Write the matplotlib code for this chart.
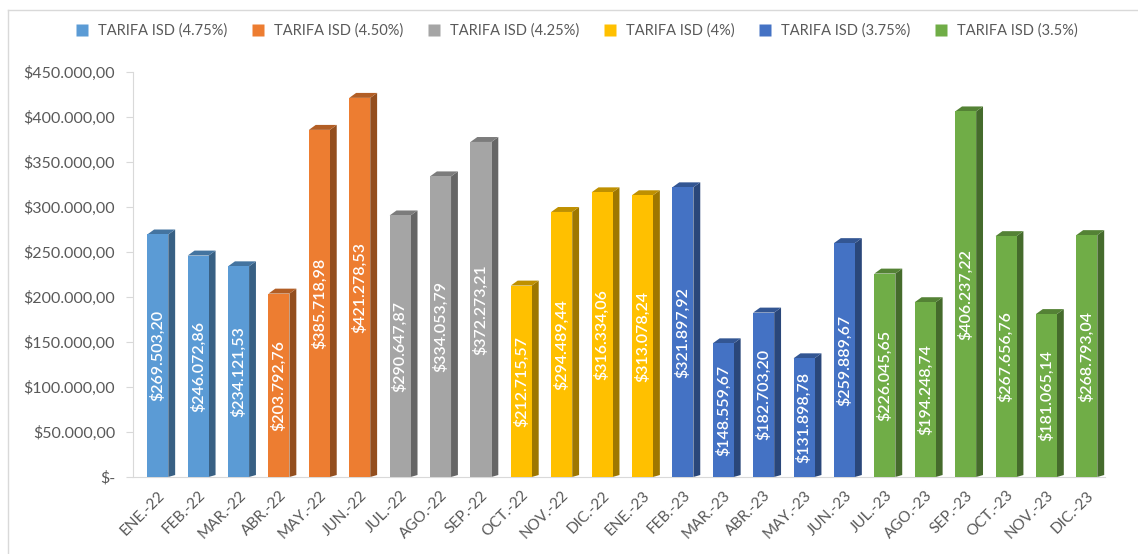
import numpy as np
import matplotlib.pyplot as plt
from matplotlib.patches import Polygon, Rectangle
from matplotlib.lines import Line2D
from matplotlib.colors import to_rgb

plt.rcParams['font.family'] = ['Lato', 'DejaVu Sans']

months = ["ENE.-22", "FEB.-22", "MAR.-22", "ABR.-22", "MAY.-22", "JUN.-22",
          "JUL.-22", "AGO.-22", "SEP.-22", "OCT.-22", "NOV.-22", "DIC.-22",
          "ENE.-23", "FEB.-23", "MAR.-23", "ABR.-23", "MAY.-23", "JUN.-23",
          "JUL.-23", "AGO.-23", "SEP.-23", "OCT.-23", "NOV.-23", "DIC.-23"]
values = [269503.20, 246072.86, 234121.53, 203792.76, 385718.98, 421278.53,
          290647.87, 334053.79, 372273.21, 212715.57, 294489.44, 316334.06,
          313078.24, 321897.92, 148559.67, 182703.20, 131898.78, 259889.67,
          226045.65, 194248.74, 406237.22, 267656.76, 181065.14, 268793.04]
# group index of each month (which tariff applied)
group = [0, 0, 0, 1, 1, 1, 2, 2, 2, 3, 3, 3,
         3, 4, 4, 4, 4, 4, 5, 5, 5, 5, 5, 5]
series = ["TARIFA ISD (4.75%)", "TARIFA ISD (4.50%)", "TARIFA ISD (4.25%)",
          "TARIFA ISD (4%)", "TARIFA ISD (3.75%)", "TARIFA ISD (3.5%)"]
colors = ["#5B9BD5", "#ED7D31", "#A5A5A5", "#FFC000", "#4472C4", "#70AD47"]
yticks = [0, 50000, 100000, 150000, 200000, 250000, 300000, 350000, 400000, 450000]


def fmt(v):
    s = f"{v:,.2f}"
    return "$" + s.replace(",", "X").replace(".", ",").replace("X", ".")


def shade(c, f):
    r, g, b = to_rgb(c)
    return (r * f, g * f, b * f)


fig = plt.figure(figsize=(11.38, 5.54), dpi=100)
ax = fig.add_axes([0.117, 0.139, 0.854, 0.731])

half = 0.26
dx = 0.17
dy = 5500
for i, v in enumerate(values):
    c = colors[group[i]]
    x0, x1 = i - half, i + half
    # side face
    ax.add_patch(Polygon([(x1, 0), (x1 + dx, dy * 0.4), (x1 + dx, v + dy), (x1, v)],
                         closed=True, facecolor=shade(c, 0.62), edgecolor='none', zorder=2))
    # top face
    ax.add_patch(Polygon([(x0, v), (x1, v), (x1 + dx, v + dy), (x0 + dx, v + dy)],
                         closed=True, facecolor=shade(c, 0.75), edgecolor='none', zorder=2))
    # front face
    ax.add_patch(Rectangle((x0, 0), 2 * half, v, facecolor=c, edgecolor='none', zorder=3))
    ax.text(i, v / 2, fmt(v), rotation=90, ha='center', va='center',
            color='white', fontsize=11.5, fontweight='semibold', zorder=4)

ax.set_xlim(-0.61, 23.45)
ax.set_ylim(0, 450000)
ax.set_yticks(yticks)
ax.set_yticklabels(["$-"] + [fmt(t) for t in yticks[1:]])
ax.set_xticks(range(len(months)))
ax.set_xticklabels(months, rotation=45, ha='right', rotation_mode='anchor')

for sp in ['top', 'right']:
    ax.spines[sp].set_visible(False)
for sp in ['left', 'bottom']:
    ax.spines[sp].set_color('#D9D9D9')
ax.tick_params(axis='y', colors='#D9D9D9', labelcolor='#595959', labelsize=11.5,
               length=5, pad=8)
ax.tick_params(axis='x', length=0, labelcolor='#595959', labelsize=11, pad=8)

handles = [Line2D([], [], marker='s', linestyle='none', markersize=8,
                  markerfacecolor=c, markeredgecolor='none') for c in colors]
fig.legend(handles, series, loc='center', bbox_to_anchor=(0.503, 0.945), ncol=6,
           frameon=False, fontsize=10.5, labelcolor='#595959', handletextpad=0.1,
           columnspacing=1.1)

# chart frame
fig.add_artist(Line2D([8 / 1138, 1.0], [1 - 10 / 554, 1 - 10 / 554],
                      transform=fig.transFigure, color='#D9D9D9', lw=1))
fig.add_artist(Line2D([8 / 1138, 8 / 1138], [0, 1 - 10 / 554],
                      transform=fig.transFigure, color='#D9D9D9', lw=1))

fig.savefig("out.png", dpi=100)
